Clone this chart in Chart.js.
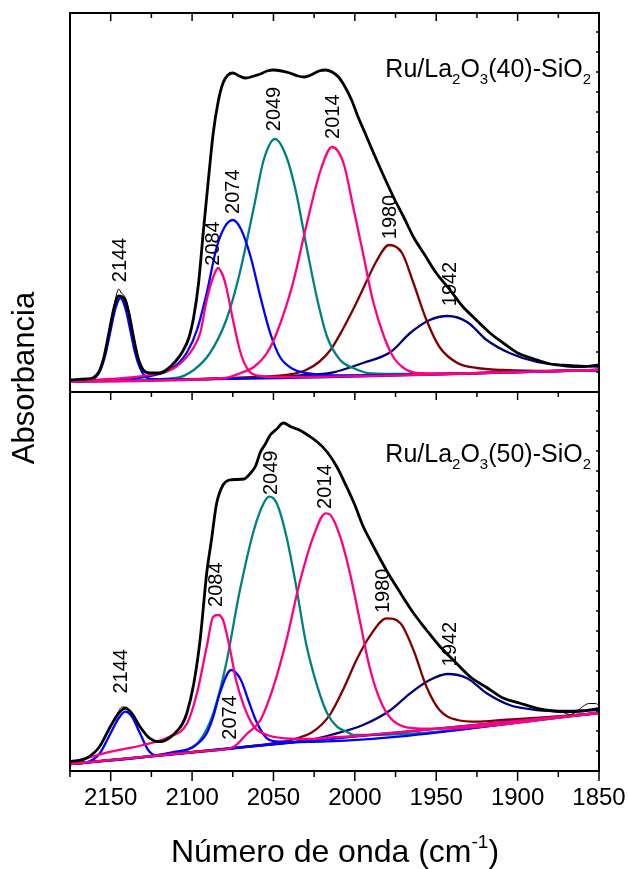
<!DOCTYPE html>
<html>
<head>
<meta charset="utf-8">
<script src="https://cdn.jsdelivr.net/npm/chart.js@4.4.1/dist/chart.umd.min.js"></script>
<style>
  html, body { margin: 0; padding: 0; background: #fff; }
  #wrap { position: relative; width: 628px; height: 869px; }
  canvas { position: absolute; left: 0; top: 0; }
</style>
</head>
<body>
<div id="wrap">
  <canvas id="top" width="628" height="869"></canvas>
  <canvas id="bot" width="628" height="869"></canvas>
</div>
<script>
// wavenumber (cm-1), absorbance (a.u.) pairs
const topTotal = [[2175,0.12],[2165,0.13],[2161,0.14],[2157,0.21],[2154,0.36],[2151,0.60],[2148,0.84],[2145,0.96],[2142,0.94],[2139,0.80],[2136,0.55],[2133,0.33],[2130,0.22],[2126,0.19],[2120,0.19],[2115,0.23],[2110,0.31],[2106,0.40],[2102,0.54],[2099,0.75],[2096,1.09],[2093,1.62],[2090,2.12],[2087,2.59],[2084,2.90],[2081,3.09],[2078,3.17],[2075,3.19],[2071,3.16],[2067,3.14],[2062,3.16],[2058,3.18],[2054,3.21],[2050,3.22],[2045,3.21],[2040,3.19],[2035,3.16],[2031,3.15],[2027,3.17],[2022,3.21],[2018,3.22],[2014,3.20],[2010,3.15],[2006,3.05],[2002,2.92],[1998,2.75],[1994,2.60],[1988,2.37],[1982,2.15],[1976,1.94],[1970,1.75],[1964,1.55],[1957,1.37],[1950,1.19],[1942,1.03],[1934,0.86],[1926,0.73],[1917,0.59],[1908,0.48],[1900,0.39],[1890,0.33],[1880,0.28],[1870,0.26],[1860,0.255],[1850,0.27]];
const topRaw = [[2162,0.13],[2157,0.22],[2153,0.44],[2149,0.78],[2146.5,0.97],[2145,1.03],[2143.5,0.99],[2142,0.97],[2140,0.90],[2137,0.66],[2134,0.41],[2131,0.26],[2127,0.19]];
const topP2144 = [[2175,0.105],[2162,0.12],[2159,0.15],[2156,0.23],[2153,0.39],[2150,0.62],[2147,0.84],[2144,0.94],[2141,0.84],[2138,0.62],[2135,0.39],[2132,0.24],[2129,0.16],[2126,0.13],[2120,0.125],[1850,0.22]];
const topP2084 = [[2175,0.105],[2150,0.13],[2135,0.15],[2120,0.19],[2110,0.25],[2100,0.42],[2095,0.59],[2091,0.92],[2087,1.15],[2084,1.24],[2081,1.16],[2079,1.05],[2075,0.73],[2070,0.38],[2065,0.21],[2058,0.16],[2045,0.15],[1850,0.22]];
const topP2074 = [[2175,0.105],[2140,0.13],[2120,0.18],[2111,0.25],[2103,0.40],[2097,0.62],[2091,0.99],[2085,1.44],[2080,1.65],[2075,1.72],[2070,1.63],[2064,1.35],[2058,0.95],[2052,0.59],[2046,0.35],[2038,0.23],[2026,0.18],[2010,0.165],[1850,0.22]];
const topP2049 = [[2175,0.105],[2110,0.14],[2099,0.22],[2089,0.39],[2079,0.72],[2071,1.17],[2062,1.85],[2056,2.32],[2049,2.53],[2042,2.35],[2036,1.99],[2030,1.48],[2023,0.92],[2017,0.55],[2009,0.32],[2001,0.24],[1990,0.185],[1970,0.18],[1850,0.22]];
const topP2014 = [[2175,0.105],[2080,0.14],[2070,0.19],[2062,0.25],[2054,0.39],[2048,0.59],[2038,1.09],[2030,1.65],[2021,2.22],[2014,2.45],[2007,2.29],[2001,1.85],[1995,1.39],[1989,0.92],[1982,0.55],[1976,0.34],[1970,0.24],[1962,0.19],[1950,0.185],[1850,0.22]];
const topP1980 = [[2175,0.105],[2060,0.15],[2040,0.175],[2030,0.22],[2022,0.30],[2015,0.42],[2008,0.61],[2000,0.86],[1993,1.10],[1987,1.30],[1979,1.47],[1971,1.39],[1964,1.09],[1956,0.72],[1948,0.45],[1937,0.29],[1925,0.24],[1909,0.22],[1880,0.21],[1850,0.22]];
const topP1942 = [[2175,0.105],[2050,0.15],[2030,0.17],[2015,0.19],[1995,0.29],[1978,0.40],[1966,0.59],[1954,0.72],[1943,0.76],[1931,0.70],[1919,0.52],[1905,0.39],[1888,0.30],[1872,0.27],[1850,0.253]];
const topBase = [[2175,0.105],[1850,0.22]];

const botTotal = [[2175,0.093],[2165,0.127],[2157,0.24],[2150,0.45],[2145,0.58],[2141,0.627],[2137,0.577],[2132,0.443],[2126,0.327],[2120,0.293],[2116,0.31],[2111,0.37],[2106,0.47],[2103,0.59],[2099,0.87],[2095,1.32],[2091,1.98],[2088,2.32],[2085,2.67],[2081,2.86],[2077,2.91],[2073,2.915],[2068,2.92],[2064,2.98],[2061,3.05],[2058,3.19],[2055,3.27],[2052,3.36],[2048,3.42],[2044,3.48],[2039,3.44],[2034,3.41],[2029,3.36],[2023,3.29],[2017,3.19],[2011,3.04],[2005,2.84],[2000,2.66],[1995,2.45],[1990,2.29],[1980,1.99],[1972,1.78],[1964,1.58],[1956,1.41],[1948,1.25],[1939,1.10],[1929,0.94],[1919,0.835],[1909,0.73],[1899,0.68],[1888,0.627],[1878,0.60],[1872,0.593],[1860,0.60],[1850,0.627]];
const botRaw = [[2150,0.45],[2146,0.57],[2143,0.64],[2141,0.64],[2138,0.60],[2134,0.50],[2129,0.37],[2124,0.31],[2119,0.29],[1890,0.63],[1880,0.605],[1872,0.585],[1868,0.565],[1864,0.59],[1860,0.645],[1856,0.675],[1852,0.675],[1850,0.65]];
const botP2144 = [[2175,0.07],[2165,0.085],[2157,0.17],[2150,0.38],[2145,0.53],[2141,0.593],[2137,0.543],[2132,0.377],[2127,0.21],[2122,0.155],[2115,0.165],[1850,0.58]];
const botP2084 = [[2175,0.08],[2150,0.193],[2130,0.26],[2114,0.343],[2103,0.477],[2097,0.777],[2091,1.243],[2087,1.543],[2084,1.56],[2081,1.51],[2077,1.243],[2073,0.91],[2068,0.643],[2062,0.443],[2054,0.36],[2042,0.327],[2028,0.32],[2015,0.335],[2000,0.35],[1850,0.58]];
const botP2074 = [[2175,0.07],[2125,0.15],[2110,0.193],[2099,0.243],[2091,0.377],[2087,0.543],[2083,0.777],[2076,1.01],[2070,0.91],[2065.5,0.71],[2060,0.477],[2054,0.327],[2046,0.293],[2035,0.29],[1850,0.58]];
const botP2049 = [[2175,0.07],[2115,0.17],[2103,0.21],[2095,0.31],[2087,0.577],[2079,1.077],[2071,1.777],[2062,2.41],[2056,2.677],[2052.5,2.743],[2048,2.677],[2042,2.343],[2036,1.843],[2030,1.277],[2023,0.843],[2017,0.577],[2011,0.443],[2005,0.393],[2001,0.36],[1990,0.36],[1850,0.58]];
const botP2014 = [[2175,0.07],[2090,0.203],[2075,0.237],[2066,0.377],[2058,0.51],[2050,0.843],[2042,1.31],[2034,1.877],[2025.5,2.343],[2018,2.577],[2015,2.56],[2009,2.343],[2003,1.977],[1997,1.51],[1991,1.043],[1984.5,0.71],[1978,0.527],[1970,0.443],[1962,0.427],[1950,0.423],[1850,0.58]];
const botP1980 = [[2175,0.07],[2060,0.255],[2045,0.29],[2035,0.33],[2027,0.38],[2020,0.47],[2015,0.57],[2007,0.82],[1999,1.11],[1991,1.343],[1980.5,1.527],[1972,1.477],[1964,1.21],[1956,0.843],[1948,0.61],[1937,0.51],[1925,0.493],[1909,0.51],[1880,0.54],[1850,0.58]];
const botP1942 = [[2175,0.07],[2050,0.27],[2028,0.31],[2015,0.36],[1995,0.46],[1978,0.61],[1966,0.777],[1954,0.91],[1943,0.97],[1931,0.927],[1919,0.777],[1905,0.66],[1888,0.61],[1872,0.60],[1850,0.61]];
const botBase = [[2175,0.07],[1850,0.58]];

// peak labels and where they sit
const peakNames = ['2144', '2084', '2074', '2049', '2014', '1980', '1942'];
const topLabelWn = [2143.7, 2087, 2074.4, 2049.3, 2013, 1978.3, 1941.4];
const topLabelA = [1.32, 1.485, 2.003, 2.83, 2.753, 1.75, 1.08];
const botLabelWn = [2143.1, 2085.3, 2076.3, 2051.1, 2017.9, 1982.1, 1941.4];
const botLabelA = [0.997, 1.863, 0.535, 2.982, 2.843, 1.802, 1.268];

const xTicks = [2150, 2100, 2050, 2000, 1950, 1900, 1850];

const FONT = '"Liberation Sans", Arial, sans-serif';
const BLACK = '#000000', BLUE = '#0000ff', PINK = '#ff0080', TEAL = '#008080',
      BROWN = '#800000', NAVY = '#000080', VIOLET = '#8000ff';

const pts = arr => arr.map(p => ({x: p[0], y: p[1]}));
const curve = (data, color, width) => ({
  data: pts(data), borderColor: color, borderWidth: width,
  pointRadius: 0, fill: false, cubicInterpolationMode: 'monotone'
});

// draws a string made of normal/sub/sup pieces
function richText(ctx, parts, x, base, align) {
  let w = 0;
  parts.forEach(p => { ctx.font = p[1] + 'px ' + FONT; w += ctx.measureText(p[0]).width; });
  let cx = align === 'right' ? x - w : x - w / 2;
  ctx.textAlign = 'left';
  ctx.textBaseline = 'alphabetic';
  parts.forEach(p => {
    ctx.font = p[1] + 'px ' + FONT;
    ctx.fillText(p[0], cx, base + p[2]);
    cx += ctx.measureText(p[0]).width;
  });
}

const decor = {
  id: 'decor',
  afterDraw(chart, args, o) {
    const {ctx, chartArea: a, scales: {x, y}} = chart;
    ctx.save();
    ctx.strokeStyle = '#000';
    ctx.lineWidth = 2;
    ctx.strokeRect(a.left, a.top, a.right - a.left, a.bottom - a.top);

    ctx.lineWidth = 1.5;
    ctx.beginPath();
    for (let v = 1850; v <= 2175; v += 25) {
      const px = x.getPixelForValue(v);
      const major = v % 50 === 0;
      ctx.moveTo(px, a.top);
      ctx.lineTo(px, a.top + (major ? 8 : 5));
      if (o.outerTicks) {
        ctx.moveTo(px, a.bottom);
        ctx.lineTo(px, a.bottom + (major ? 10 : 6));
      }
    }
    for (let v = 0.2; v < y.max; v += 0.2) {
      const py = y.getPixelForValue(v);
      ctx.moveTo(a.right, py);
      ctx.lineTo(a.right - 3, py);
    }
    ctx.stroke();

    ctx.fillStyle = '#000';
    ctx.font = '20px ' + FONT;
    ctx.textAlign = 'center';
    ctx.textBaseline = 'middle';
    peakNames.forEach((n, i) => {
      ctx.save();
      ctx.translate(x.getPixelForValue(o.labelWn[i]), y.getPixelForValue(o.labelA[i]));
      ctx.rotate(-Math.PI / 2);
      ctx.fillText(n, 0, 0);
      ctx.restore();
    });

    richText(ctx, [['Ru/La', 25, 0], ['2', 15, 7], ['O', 25, 0], ['3', 15, 7],
      ['(' + o.load + ')-SiO', 25, 0], ['2', 15, 7]], a.right - 8, a.top + o.titleDy, 'right');

    if (o.yTitle) {
      ctx.save();
      ctx.translate(25, 378);
      ctx.rotate(-Math.PI / 2);
      ctx.font = '31px ' + FONT;
      ctx.textAlign = 'center';
      ctx.textBaseline = 'middle';
      ctx.fillText('Absorbancia', 0, 0);
      ctx.restore();
    }
    if (o.xTitle) {
      richText(ctx, [['Número de onda (cm', 32, 0], ['-1', 19, -14], [')', 32, 0]], 335, 862, 'center');
    }
    ctx.restore();
  }
};

function makeChart(id, sets, opts, bottom) {
  const xScale = {
    type: 'linear', reverse: true, min: 1850, max: 2175,
    display: bottom,
    grid: { display: false, drawTicks: false },
    border: { display: false },
    ticks: {
      stepSize: 25, autoSkip: false, maxRotation: 0, padding: 13,
      color: '#000', font: { size: 24, family: FONT },
      callback: v => xTicks.includes(v) ? String(v) : ''
    }
  };
  if (bottom) {
    xScale.afterFit = s => { s.height = 98; s.paddingLeft = 0; s.paddingRight = 0; };
  }
  return new Chart(document.getElementById(id), {
    type: 'line',
    data: {
      datasets: [
        curve(sets[0], BLACK, 2.8),
        curve(sets[9], BLACK, 1),
        curve(sets[2], PINK, 2.3),
        curve(sets[5], PINK, 2.3),
        curve(sets[1], BLUE, 2.3),
        curve(sets[3], BLUE, 2.3),
        curve(sets[4], TEAL, 2.3),
        curve(sets[6], BROWN, 2.3),
        curve(sets[7], NAVY, 2.3),
        curve(sets[8], VIOLET, 1.5)
      ]
    },
    options: {
      responsive: false,
      animation: false,
      devicePixelRatio: 1,
      spanGaps: false,
      layout: { padding: bottom ? {left: 70, right: 29, top: 392, bottom: 0} : {left: 70, right: 29, top: 13, bottom: 477} },
      plugins: { legend: { display: false }, tooltip: { enabled: false }, decor: opts },
      scales: {
        x: xScale,
        y: { display: false, min: 0, max: 3.79 }
      }
    },
    plugins: [decor]
  });
}

// the raw spectrum is only drawn where it shows beside the fit; split the bottom one in two runs
const botRawRuns = botRaw.slice(0, 9).concat([[2000, null]], botRaw.slice(9));

makeChart('top', [topTotal, topP2144, topP2084, topP2074, topP2049, topP2014, topP1980, topP1942, topBase, topRaw],
  { labelWn: topLabelWn, labelA: topLabelA, load: '40', titleDy: 64, yTitle: true }, false);
makeChart('bot', [botTotal, botP2144, botP2084, botP2074, botP2049, botP2014, botP1980, botP1942, botBase, botRawRuns],
  { labelWn: botLabelWn, labelA: botLabelA, load: '50', titleDy: 70, outerTicks: true, xTitle: true }, true);
</script>
</body>
</html>
